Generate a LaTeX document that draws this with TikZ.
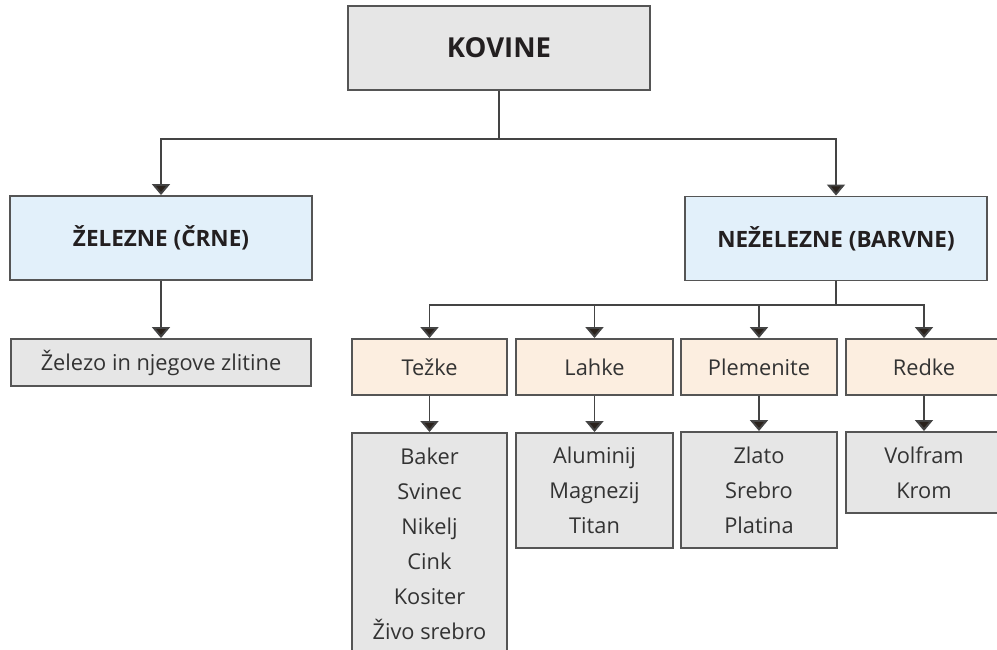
\documentclass[tikz,border=0pt]{standalone}
\usepackage{fontspec}
\setmainfont{Open Sans}
\usetikzlibrary{arrows.meta}
\definecolor{boxgrey}{HTML}{E6E6E6}
\definecolor{boxblue}{HTML}{E2F0FA}
\definecolor{boxpeach}{HTML}{FCEEE0}
\definecolor{edgegrey}{HTML}{555555}
\definecolor{linegrey}{HTML}{444444}
\definecolor{tipdark}{HTML}{2A221C}
\definecolor{txtdark}{HTML}{231F20}
\definecolor{txtgrey}{HTML}{333333}
\tikzset{
  basebox/.style={draw=edgegrey, line width=1.9pt, rectangle, inner sep=0pt},
  topbox/.style={basebox, fill=boxgrey, minimum width=302pt, minimum height=84pt,
    font=\fontsize{27.5}{30}\selectfont\bfseries, text=txtdark},
  kindbox/.style={basebox, fill=boxblue, minimum width=302pt, minimum height=84pt,
    font=\fontsize{22.5}{24}\selectfont\bfseries, text=txtdark},
  itembox/.style={basebox, fill=boxgrey, minimum width=300pt, minimum height=47pt,
    font=\fontsize{21.8}{24}\selectfont, text=txtgrey},
  catbox/.style={basebox, fill=boxpeach, minimum height=56pt,
    font=\fontsize{21.8}{24}\selectfont, text=txtgrey},
  listbox/.style={basebox, fill=boxgrey, anchor=north, align=center,
    font=\fontsize{21.8}{35}\selectfont, text=txtgrey},
  conn/.style={draw=linegrey, line width=1.9pt},
  arr/.style={conn, -{Triangle[width=18pt,length=11pt,fill=tipdark]}},
}
\begin{document}
\begin{tikzpicture}[x=1pt,y=-1pt]
\useasboundingbox (0,0) rectangle (997,649);
\clip (0,0) rectangle (997,649);
\fill[white] (0,0) rectangle (997,649);

\node[topbox] (kovine) at (499,48) {KOVINE};
\node[kindbox] (zel) at (161,238) {ŽELEZNE (ČRNE)};
\node[kindbox] (nez) at (836,238.5) {NEŽELEZNE (BARVNE)};
\node[itembox] (zelezo) at (161,362.5) {Železo in njegove zlitine};

\node[catbox, minimum width=155pt] (tezke) at (429.5,367) {Težke};
\node[catbox, minimum width=157pt] (lahke) at (594.5,367) {Lahke};
\node[catbox, minimum width=156pt] (plem) at (759,367) {Plemenite};
\node[catbox, minimum width=156pt] (redke) at (924,367) {Redke};

\node[listbox, minimum width=155pt, minimum height=222pt] (ltezke) at (429.5,432)
  {Baker\\Svinec\\Nikelj\\Cink\\Kositer\\Živo srebro};
\node[listbox, minimum width=157pt, minimum height=115pt] (llahke) at (594.5,432)
  {Aluminij\\Magnezij\\Titan};
\node[listbox, minimum width=156pt, minimum height=116pt] (lplem) at (759,431)
  {Zlato\\Srebro\\Platina};
\node[listbox, minimum width=156pt, minimum height=81pt] (lredke) at (924,431)
  {Volfram\\Krom};

\coordinate (j1) at (499,139);
\coordinate (j2) at (836,305);

\draw[conn] (kovine.south) -- (j1);
\draw[arr] (j1) -| (zel.north);
\draw[arr] (j1) -| (nez.north);
\draw[arr] (zel.south) -- (zelezo.north);

\draw[conn] (nez.south) -- (j2);
\draw[arr] (j2) -| (tezke.north);
\draw[arr] (j2) -| (lahke.north);
\draw[arr] (j2) -| (plem.north);
\draw[arr] (j2) -| (redke.north);

\draw[arr] (tezke.south) -- (ltezke.north);
\draw[arr] (lahke.south) -- (llahke.north);
\draw[arr] (plem.south) -- (lplem.north);
\draw[arr] (redke.south) -- (lredke.north);
\end{tikzpicture}
\end{document}
